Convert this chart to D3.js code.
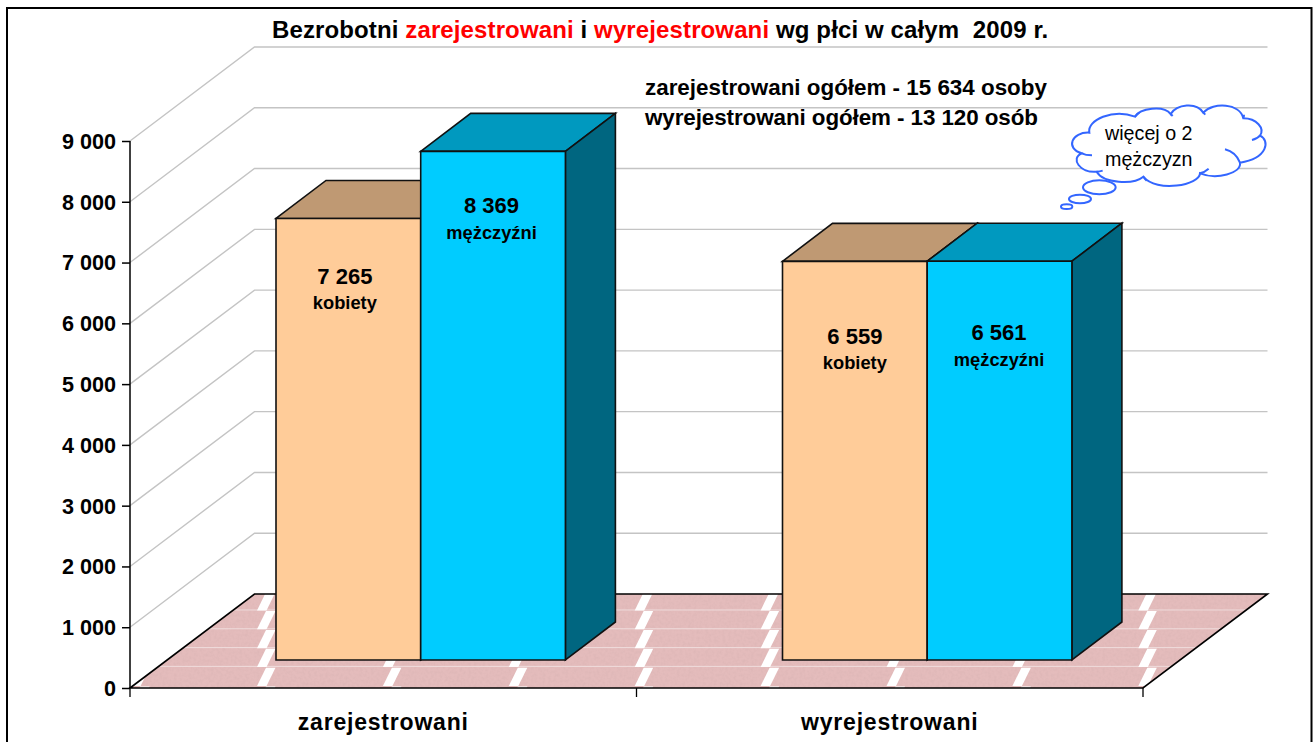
<!DOCTYPE html>
<html><head><meta charset="utf-8">
<script src="https://cdnjs.cloudflare.com/ajax/libs/d3/7.8.5/d3.min.js"></script>
<style>html,body{margin:0;padding:0;background:#fff;overflow:hidden}text{font-family:"Liberation Sans",Arial,sans-serif}</style>
</head><body><svg id="c" width="1315" height="742"></svg>
<script>
const categories=["zarejestrowani","wyrejestrowani"];
const kobiety=[7265,6559];
const mezczyzni=[8369,6561];
const seriesNames=["kobiety","mężczyźni"];
const valueLabels=[["7 265","8 369"],["6 559","6 561"]];
const yTicks=[0,1000,2000,3000,4000,5000,6000,7000,8000,9000];
const yTickLabels=["0","1 000","2 000","3 000","4 000","5 000","6 000","7 000","8 000","9 000"];
const frontColors=["#FFCC99","#00CCFF"],topColors=["#BF9973","#0099BF"],sideColors=["#806650","#006680"];

const svg=d3.select("#c");
const y=d3.scaleLinear().domain([0,9000]).range([688,141]);
const x=d3.scaleBand().domain(categories).range([130,1143]);
const depth={x:124.5,y:94};
const barDepth={x:50,y:38};
const barBaseY=660,barWidth=144.7,barLeftInset=146;
const labelNudge=[[{dx:-3.5,v:276,n:303},{dx:-1.5,v:205,n:233}],[{dx:0,v:336,n:363},{dx:-0.5,v:332,n:360}]];
const line=d3.line();

const defs=svg.append("defs");
const tex=defs.append("filter").attr("id","tex").attr("x",0).attr("y",0).attr("width","100%").attr("height","100%");
tex.append("feTurbulence").attr("type","fractalNoise").attr("baseFrequency",0.35).attr("numOctaves",2).attr("seed",3).attr("result","n");
tex.append("feColorMatrix").attr("in","n").attr("type","matrix").attr("values","0 0 0 0 0.55  0 0 0 0 0.35  0 0 0 0 0.35  0.35 0 0 0 -0.12").attr("result","m");
tex.append("feComposite").attr("in","m").attr("in2","SourceGraphic").attr("operator","in").attr("result","c");
const mg=tex.append("feMerge");mg.append("feMergeNode").attr("in","SourceGraphic");mg.append("feMergeNode").attr("in","c");

svg.append("rect").attr("x",7).attr("y",8).attr("width",1304.5).attr("height",760).attr("fill","#fff").attr("stroke","#000").attr("stroke-width",2);

// wall grid
const g=svg.append("g");
yTicks.slice(1).forEach(t=>{
  g.append("path").attr("d",line([[130,y(t)],[130+depth.x,y(t)-depth.y],[1143+depth.x,y(t)-depth.y]]))
   .attr("fill","none").attr("stroke","#c4c4c4").attr("stroke-width",1.4);
});

// floor
const fl=[[130,688],[130+depth.x,688-depth.y],[1143+depth.x,688-depth.y],[1143,688]];
svg.append("path").attr("d",line(fl)+"Z").attr("fill","#E4BCBC").attr("filter","url(#tex)");
const floorFracs=[0.23,0.43,0.63,0.83];
svg.append("clipPath").attr("id","fl").append("path").attr("d",line(fl)+"Z");
const fg=svg.append("g").attr("clip-path","url(#fl)");
floorFracs.forEach(f=>{
  const dy=depth.y*f;
  fg.append("line").attr("x1",100).attr("x2",1300).attr("y1",688-dy).attr("y2",688-dy).attr("stroke","#efdcdc").attr("stroke-width",1);
});
const stripeXs=d3.range(-1,8).map(i=>257+i*125.9);
const rows=[-1,0,1,2,3,4];
stripeXs.forEach(sx=>rows.forEach(r=>{
  const yb=686-r*18.9, yt=yb-18.3;
  fg.append("path").attr("d",line([[sx,yb],[sx+9.5,yb],[sx+18.5,yt],[sx+9,yt]])+"Z").attr("fill","#fff");
}));

// axes
svg.append("path").attr("d",line(fl)+"Z").attr("fill","none").attr("stroke","#000").attr("stroke-width",1.6);
const axisG=svg.append("g").attr("transform","translate(130,0)").call(
  d3.axisLeft(y).tickValues(yTicks).tickSize(8).tickFormat((d,i)=>yTickLabels[i]));
axisG.selectAll("line,path").attr("stroke","#000").attr("stroke-width",1.5);
axisG.select("path").attr("d","M0,141V688");
axisG.selectAll("text").attr("font-size",21.6).attr("font-weight","bold").attr("fill","#000").attr("x",-14).attr("dy","0.34em").attr("text-anchor","end").attr("font-family","Liberation Sans");
[130,636.5,1143].forEach(px=>svg.append("line").attr("x1",px).attr("x2",px).attr("y1",688).attr("y2",697).attr("stroke","#000").attr("stroke-width",1.3));
categories.forEach(c=>svg.append("text").attr("x",x(c)+x.bandwidth()/2).attr("y",729.5).attr("text-anchor","middle").attr("font-size",23).attr("letter-spacing",0.8).attr("font-weight","bold").text(c));

// bars
categories.forEach((c,ci)=>{
  [kobiety[ci],mezczyzni[ci]].forEach((v,si)=>{
    const x0=x(c)+barLeftInset+si*barWidth, x1=x0+barWidth;
    const h=y(0)-y(v), yt=barBaseY-h;
    const st={stroke:"#111","stroke-width":1.6,"stroke-linejoin":"miter"};
    const add=(pts,fill)=>{const p=svg.append("path").attr("d",line(pts)+"Z").attr("fill",fill);Object.entries(st).forEach(([k,w])=>p.attr(k,w));};
    add([[x0,yt],[x0+barDepth.x,yt-barDepth.y],[x1+barDepth.x,yt-barDepth.y],[x1,yt]],topColors[si]);
    add([[x1,yt],[x1+barDepth.x,yt-barDepth.y],[x1+barDepth.x,barBaseY-barDepth.y],[x1,barBaseY]],sideColors[si]);
    add([[x0,yt],[x1,yt],[x1,barBaseY],[x0,barBaseY]],frontColors[si]);
  });
});
categories.forEach((c,ci)=>{
  [0,1].forEach(si=>{
    const x0=x(c)+barLeftInset+si*barWidth, cx=x0+barWidth/2+labelNudge[ci][si].dx;
    svg.append("text").attr("x",cx).attr("y",labelNudge[ci][si].v+8).attr("text-anchor","middle").attr("font-size",22).attr("font-weight","bold").text(valueLabels[ci][si]);
    svg.append("text").attr("x",cx).attr("y",labelNudge[ci][si].n+6).attr("text-anchor","middle").attr("font-size",18.3).attr("font-weight","bold").text(seriesNames[si]);
  });
});

// title
const title=svg.append("text").attr("x",272).attr("y",37.5).attr("font-size",24).attr("letter-spacing",0.12).attr("font-weight","bold").attr("xml:space","preserve");
[["Bezrobotni ","#000"],["zarejestrowani","#f00"],[" i ","#000"],["wyrejestrowani","#f00"],[" wg płci w całym  2009 r.","#000"]].forEach(([t,f])=>title.append("tspan").attr("fill",f).text(t));
svg.append("text").attr("x",645).attr("y",95).attr("font-size",22.4).attr("font-weight","bold").text("zarejestrowani ogółem - 15 634 osoby");
svg.append("text").attr("x",645).attr("y",125).attr("font-size",22.4).attr("letter-spacing",-0.08).attr("font-weight","bold").text("wyrejestrowani ogółem - 13 120 osób");

// cloud, drawn at 3x then scaled down
const cloud=svg.append("g").attr("transform","translate(1040,90) scale(0.3333)").attr("fill","#fff").attr("stroke","#3366FF").attr("stroke-width",6);
cloud.append("path").attr("d","M148,128 C140,90 220,55 285,80 C300,55 370,45 392,72 C410,42 470,35 490,68 C520,35 600,40 610,85 C650,85 675,115 660,137 C690,150 685,205 600,218 C605,250 530,270 480,250 C480,285 350,310 310,260 C280,285 190,280 170,245 C120,250 90,205 125,190 C75,175 95,125 148,128 Z");
["M125,190 C135,195 145,196 156,196","M636,150 C645,148 655,143 660,137","M555,178 C575,183 592,198 600,218","M480,250 C488,248 498,243 506,236","M310,260 C312,264 315,268 320,272","M285,80 C288,76 292,72 298,68","M392,72 C394,74 396,76 398,78","M490,68 C492,70 494,72 496,74","M610,85 C611,82 612,78 612,74","M170,245 C175,245 182,244 188,242"].forEach(d=>cloud.append("path").attr("d",d).attr("fill","none"));
cloud.append("ellipse").attr("cx",178).attr("cy",292).attr("rx",49).attr("ry",21);
cloud.append("ellipse").attr("cx",120).attr("cy",327).attr("rx",33).attr("ry",13);
cloud.append("ellipse").attr("cx",80).attr("cy",350).attr("rx",17).attr("ry",7);
svg.append("text").attr("x",1105).attr("y",140).attr("font-size",19.7).text("więcej o 2");
svg.append("text").attr("x",1105).attr("y",166).attr("font-size",19.7).text("mężczyzn");
</script></body></html>
